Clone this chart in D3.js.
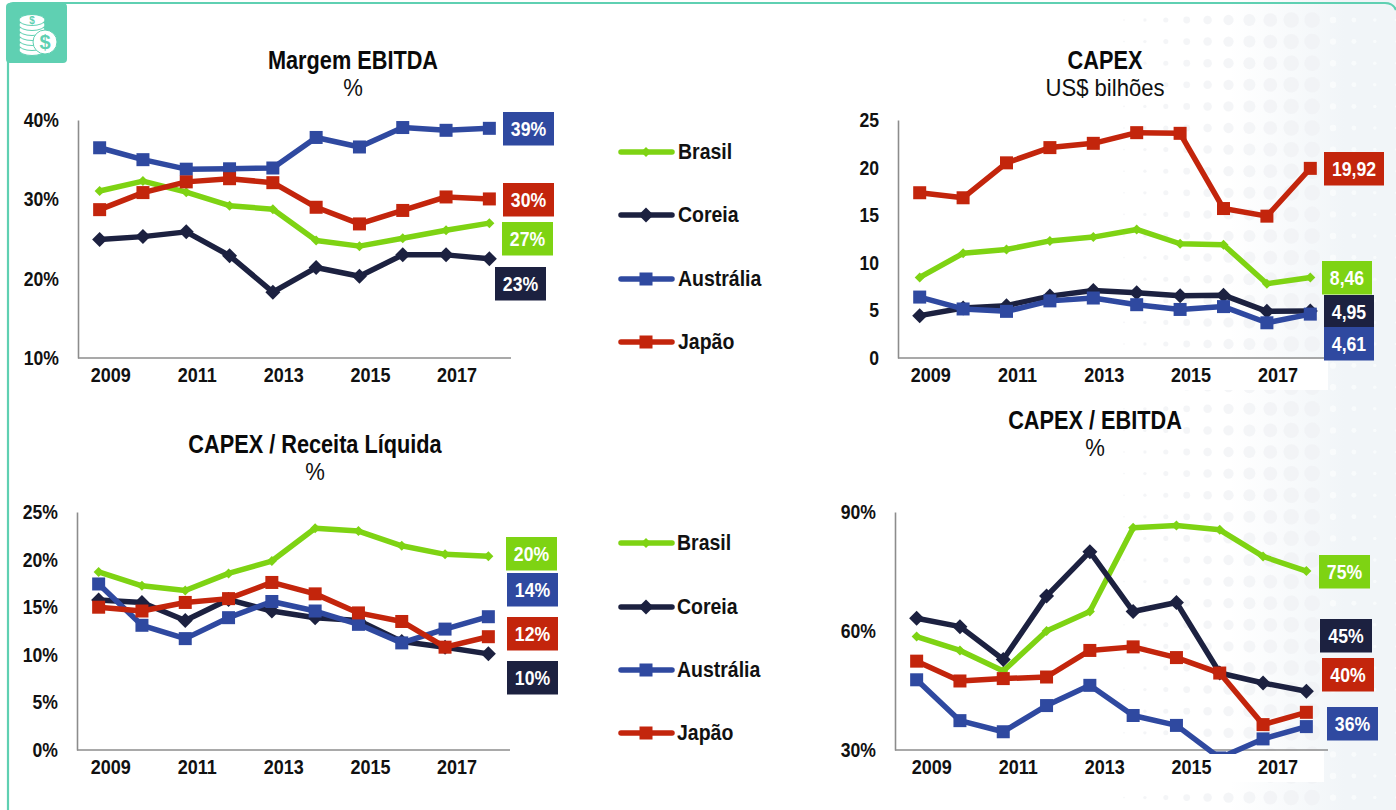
<!DOCTYPE html>
<html><head><meta charset="utf-8">
<script src="https://cdnjs.cloudflare.com/ajax/libs/d3/7.8.5/d3.min.js"></script>
<style>html,body{margin:0;padding:0;background:#fff}svg{display:block}text{font-family:"Liberation Sans",Arial,sans-serif}</style>
</head><body><svg id="c" width="1396" height="810"></svg>
<script>
const years=[2009,2010,2011,2012,2013,2014,2015,2016,2017,2018];
const tickYears=[2009,2011,2013,2015,2017];
const seriesNames=["Brasil","Coreia","Austrália","Japão"];
const seriesColors={"Brasil":"#7ED313","Coreia":"#1C2140","Austrália":"#2F49A0","Japão":"#C3250C"};
const markerKind={"Brasil":"smallDiamond","Coreia":"diamond","Austrália":"square","Japão":"square"};

const margemBrasil=[31.05,32.3,30.9,29.2,28.75,24.8,24.1,25.1,26.1,27];
const margemCoreia=[24.95,25.3,25.9,22.9,18.3,21.4,20.3,23,23,22.5];
const margemAustralia=[36.5,35,33.8,33.85,33.95,37.8,36.6,39.05,38.7,38.95];
const margemJapao=[28.7,30.85,32.2,32.6,32.1,29,26.9,28.6,30.3,30.05];

const capexBrasil=[8.46,11,11.4,12.3,12.7,13.5,12,11.9,7.8,8.46];
const capexCoreia=[4.45,5.26,5.5,6.5,7.1,6.85,6.55,6.6,4.9,4.95];
const capexAustralia=[6.4,5.15,4.9,6,6.3,5.6,5.1,5.4,3.7,4.61];
const capexJapao=[17.36,16.83,20.5,22.1,22.55,23.67,23.6,15.7,14.9,19.92];

const receitaBrasil=[18.7,17.25,16.75,18.55,19.85,23.3,23,21.45,20.55,20.35];
const receitaCoreia=[15.75,15.5,13.6,15.8,14.6,13.9,13.6,11.4,10.8,10.1];
const receitaAustralia=[17.44,13.1,11.7,13.9,15.6,14.6,13.2,11.25,12.7,14];
const receitaJapao=[15,14.6,15.5,15.9,17.6,16.4,14.4,13.5,10.8,11.9];

const ebitdaBrasil=[58.6,55.1,49.9,60,64.9,86,86.6,85.5,78.8,75.1];
const ebitdaCoreia=[63.2,61.1,52.8,68.8,80,64.9,67.2,49.4,46.9,44.8];
const ebitdaAustralia=[47.7,37.4,34.6,41.2,46.3,38.7,36.2,28,32.8,35.9];
const ebitdaJapao=[52.4,47.4,48,48.4,55.1,56,53.3,49.4,36.4,39.5];

const margemLabels=["27%","23%","39%","30%"];
const capexLabels=["8,46","4,95","4,61","19,92"];
const receitaLabels=["20%","10%","14%","12%"];
const ebitdaLabels=["75%","45%","36%","40%"];

const svg=d3.select("#c");
function squeeze(sel,f){sel.each(function(){const len=this.getComputedTextLength();d3.select(this).attr("textLength",len*f).attr("lengthAdjust","spacingAndGlyphs");});return sel;}
const bgG=svg.append("g");
const defs=svg.append("defs");
const grad=defs.append("linearGradient").attr("id","wash").attr("x1",0).attr("x2",1).attr("y1",0).attr("y2",0);
grad.append("stop").attr("offset",0).attr("stop-color","#fff");
grad.append("stop").attr("offset",1).attr("stop-color","#F1F5F8");
bgG.append("rect").attr("x",1230).attr("y",0).attr("width",115).attr("height",810).attr("fill","url(#wash)");
bgG.append("rect").attr("x",1345).attr("y",0).attr("width",51).attr("height",810).attr("fill","#F1F5F8");
const dotCols=d3.range(1124,1400,20.9), dotRows=d3.range(20,815,21.6);
const dotR=d3.scaleLinear().domain([1124,1310,1325,1396]).range([0.8,8.5,3.5,1]).clamp(true);
dotRows.forEach(y=>dotCols.forEach(x=>bgG.append("circle").attr("cx",x).attr("cy",y).attr("r",dotR(x)).attr("fill",x>1320?"#FAFCFD":"#EFF1F4").attr("opacity",x>1320?0.8:0.7)));

const teal="#5FD0B2";
svg.append("path").attr("d","M8 810V8Q8 3 13 3H1385Q1393 3 1396 10").attr("fill","none").attr("stroke",teal).attr("stroke-width",2.2);
svg.append("rect").attr("x",6).attr("y",3).attr("width",61).attr("height",60).attr("rx",4).attr("fill",teal);
const ic=svg.append("g");
[16,21,26,31,36,41,46].slice().reverse().forEach(y=>ic.append("ellipse").attr("cx",32).attr("cy",y+4).attr("rx",13).attr("ry",5.5).attr("fill","#fff").attr("stroke",teal).attr("stroke-width",1));
ic.append("text").attr("x",32).attr("y",24).attr("text-anchor","middle").attr("font-size",10).attr("font-weight",700).attr("fill",teal).text("$");
ic.append("circle").attr("cx",45).attr("cy",42).attr("r",12).attr("fill","#fff").attr("stroke",teal);
ic.append("text").attr("x",45).attr("y",49).attr("text-anchor","middle").attr("font-size",20).attr("font-weight",700).attr("fill",teal).text("$");

function panel(o){
  const g=svg.append("g");
  const x=d3.scaleBand().domain(years).range([o.left,o.right]);
  const cx=d=>x(d)+x.bandwidth()/2;
  const y=d3.scaleLinear().domain(o.domain).range([o.bottom,o.top]);
  const clipId="clip"+o.id;
  defs.append("clipPath").attr("id",clipId).append("rect").attr("x",o.left-20).attr("y",o.top-10).attr("width",o.right-o.left+40).attr("height",o.bottom-o.top+14);
  g.append("rect").attr("x",o.left-60).attr("y",o.bottom+1).attr("width",o.right-o.left+56).attr("height",31).attr("fill","#fff").attr("opacity",o.plate||0);
  const yAxis=d3.axisLeft(y).tickValues(o.ticks).tickFormat(o.fmt).tickSize(0).tickPadding(19);
  const ya=g.append("g").attr("transform",`translate(${o.left},0)`).call(yAxis);
  squeeze(ya.selectAll("text").attr("font-size",20).attr("font-weight",700).attr("fill","#111"),0.88);
  ya.select(".domain").attr("stroke","#8C8C8C").attr("stroke-width",1.6);
  const xLab=d3.scaleBand().domain(years).range([o.left+o.shift,o.right+o.shift]);
  const xAxis=d3.axisBottom(xLab).tickValues(tickYears).tickSize(0).tickPadding(10);
  const xa=g.append("g").attr("transform",`translate(0,${o.bottom})`).call(xAxis);
  squeeze(xa.selectAll("text").attr("font-size",20).attr("font-weight",700).attr("fill","#111"),0.9);
  xa.select(".domain").remove();
  g.append("line").attr("x1",o.left).attr("x2",o.right).attr("y1",o.bottom).attr("y2",o.bottom).attr("stroke","#8C8C8C").attr("stroke-width",1.6);
  squeeze(g.append("text").attr("x",o.titleX).attr("y",o.titleY).attr("text-anchor","middle").attr("font-size",26).attr("font-weight",700).attr("fill","#0a0a0a").text(o.title),0.835);
  squeeze(g.append("text").attr("x",o.titleX).attr("y",o.titleY+27).attr("text-anchor","middle").attr("font-size",24).attr("fill","#111").text(o.sub),0.92);
  const line=d3.line().x((d,i)=>cx(years[i])).y(d=>y(d));
  const marks=g.append("g").attr("clip-path",`url(#${clipId})`);
  seriesNames.forEach((name,si)=>{
    const vals=o.series[si], c=seriesColors[name];
    marks.append("path").datum(vals).attr("d",line).attr("fill","none").attr("stroke",c).attr("stroke-width",5.5).attr("stroke-linejoin","round");
    vals.forEach((v,i)=>drawMarker(marks,markerKind[name],cx(years[i]),y(v),c));
  });
  seriesNames.forEach((name,si)=>{
    const b=o.badges[si];
    g.append("rect").attr("x",b[0]).attr("y",b[1]).attr("width",b[2]).attr("height",33.5).attr("fill",seriesColors[name]);
    squeeze(g.append("text").attr("x",b[0]+b[2]/2).attr("y",b[1]+24).attr("text-anchor","middle").attr("font-size",21).attr("font-weight",700).attr("fill","#fff").text(o.labels[si]),0.84);
  });
}
function drawMarker(g,kind,px,py,c){
  if(kind==="square") g.append("rect").attr("x",px-6.5).attr("y",py-6.5).attr("width",13).attr("height",13).attr("fill",c);
  else{const r=kind==="diamond"?7.5:5;g.append("path").attr("d",`M${px} ${py-r}L${px+r} ${py}L${px} ${py+r}L${px-r} ${py}Z`).attr("fill",c);}
}
function legend(x,ys){
  seriesNames.forEach((name,i)=>{
    const c=seriesColors[name],yy=ys[i];
    svg.append("line").attr("x1",621).attr("x2",672).attr("y1",yy).attr("y2",yy).attr("stroke",c).attr("stroke-width",5.5).attr("stroke-linecap","round");
    drawMarker(svg,markerKind[name],646,yy,c);
    squeeze(svg.append("text").attr("x",x).attr("y",yy+7).attr("font-size",22).attr("font-weight",700).attr("fill","#111").text(name),0.885);
  });
}
const pct=d=>d+"%";
panel({id:1,left:78,right:511,top:120,bottom:358,shift:11,domain:[10,40],ticks:[10,20,30,40],fmt:pct,title:"Margem EBITDA",sub:"%",titleX:353,titleY:69,
  series:[margemBrasil,margemCoreia,margemAustralia,margemJapao],labels:margemLabels,
  badges:[[502,222,51],[495,267,51],[503,112,51],[503,183,51]]});
panel({id:2,left:898,right:1332,top:120,bottom:358,shift:11,domain:[0,25],ticks:[0,5,10,15,20,25],fmt:d=>d,title:"CAPEX",sub:"US$ bilhões",titleX:1105,titleY:69,plate:1,
  series:[capexBrasil,capexCoreia,capexAustralia,capexJapao],labels:capexLabels,
  badges:[[1322,261,50],[1324,295,50],[1324,327,50],[1324,152,60]]});
panel({id:3,left:77,right:510,top:512,bottom:750,shift:12,domain:[0,25],ticks:[0,5,10,15,20,25],fmt:pct,title:"CAPEX / Receita Líquida",sub:"%",titleX:315,titleY:453,
  series:[receitaBrasil,receitaCoreia,receitaAustralia,receitaJapao],labels:receitaLabels,
  badges:[[506,537,51],[507,661,51],[507,573,51],[507,617,51]]});
panel({id:4,left:895,right:1328,top:512,bottom:750,shift:15,domain:[30,90],ticks:[30,60,90],fmt:pct,title:"CAPEX / EBITDA",sub:"%",titleX:1095,titleY:429,plate:1,
  series:[ebitdaBrasil,ebitdaCoreia,ebitdaAustralia,ebitdaJapao],labels:ebitdaLabels,
  badges:[[1319,555,51],[1320,619,52],[1327,707,51],[1322,658,52]]});
legend(678,[152,215,279,342]);
legend(677,[543,607,670,733]);
</script></body></html>
